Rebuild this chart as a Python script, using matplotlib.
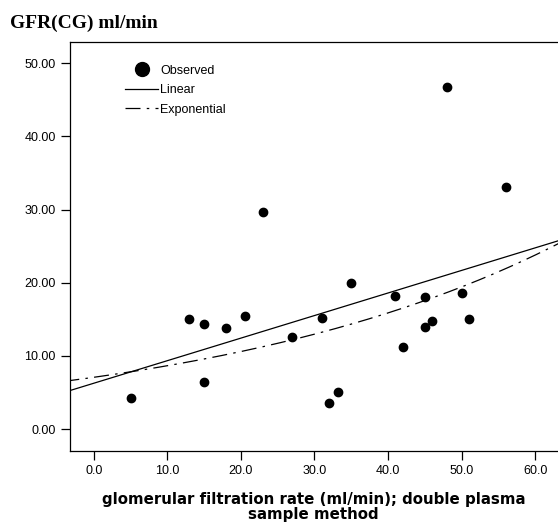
import numpy as np
import matplotlib
matplotlib.use('Agg')
import matplotlib.pyplot as plt
from matplotlib.lines import Line2D

# double plasma sample GFR (x) vs Cockcroft-Gault GFR (y)
gfr_dp = [5.0, 13.0, 15.0, 15.0, 18.0, 20.5, 23.0, 27.0, 31.0, 32.0, 33.2,
          35.0, 41.0, 42.0, 45.0, 45.0, 46.0, 48.0, 50.0, 51.0, 56.0]
gfr_cg = [4.2, 15.0, 14.4, 6.4, 13.8, 15.4, 29.7, 12.6, 15.2, 3.5, 5.1,
          20.0, 18.2, 11.2, 18.0, 13.9, 14.7, 46.7, 18.6, 15.1, 33.1]
xticks = [0, 10, 20, 30, 40, 50, 60]
yticks = [0, 10, 20, 30, 40, 50]

x = np.array(gfr_dp)
y = np.array(gfr_cg)

# curve estimation: linear and exponential (ln y on x)
b1, b0 = np.polyfit(x, y, 1)
c1, c0 = np.polyfit(x, np.log(y), 1)

fig = plt.figure(figsize=(5.58, 5.27), dpi=100)
ax = fig.add_axes([69.5/558, 76/527, 1 - 69.5/558, (451 - 42)/527])

xs = np.linspace(-4, 64, 300)
ax.scatter(x, y, s=36, color='black', zorder=3)
ax.plot(xs, b0 + b1*xs, color='black', lw=0.9)
ax.plot(xs, np.exp(c0)*np.exp(c1*xs), color='black', lw=0.9,
        dashes=(12, 5, 2, 5))

ax.set_xlim(-3.3, 63.1)
ax.set_ylim(-3.0, 52.9)
ax.set_xticks(xticks)
ax.set_xticklabels(['%.1f' % t for t in xticks])
ax.set_yticks(yticks)
ax.set_yticklabels(['%.2f' % t for t in yticks])
ax.tick_params(direction='out', length=6.5, width=0.9, pad=3.5,
               labelsize=9, colors='black')
for s in ['left', 'top', 'bottom']:
    ax.spines[s].set_linewidth(0.9)
ax.spines['right'].set_visible(False)
for lab in ax.get_xticklabels() + ax.get_yticklabels():
    lab.set_family('Liberation Sans')

handles = [Line2D([], [], marker='o', ls='none', ms=10, color='black'),
           Line2D([], [], color='black', lw=0.9),
           Line2D([], [], color='black', lw=0.9, dashes=(12, 5, 2, 5))]
ax.legend(handles, ['Observed', 'Linear', 'Exponential'],
          loc='upper left', bbox_to_anchor=(0.09, 0.972), frameon=False,
          handlelength=2.7, handletextpad=0.15, labelspacing=0.6,
          prop={'family': 'Liberation Sans', 'size': 9})

ax.set_xlabel('glomerular filtration rate (ml/min); double plasma\nsample method',
              family='DejaVu Sans', fontweight='bold', fontsize=10.8,
              linespacing=1.0, labelpad=11)
fig.text(10/558, 1 - 28/527, 'GFR(CG) ml/min', family='Liberation Serif',
         fontweight='bold', fontsize=14, va='baseline')

fig.savefig('out.png', dpi=100)
